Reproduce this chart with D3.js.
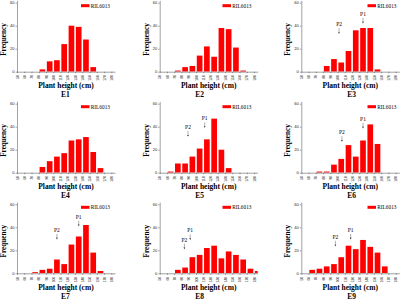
<!DOCTYPE html>
<html>
<head>
<meta charset="utf-8">
<script src="https://cdn.jsdelivr.net/npm/d3@7"></script>
<style>
body { margin: 0; background: #fff; }
svg { display: block; font-family: 'Liberation Serif', 'Times New Roman', serif; }
.axis path, .axis line { stroke: #444; stroke-width: 0.5; }
.axis text { fill: #222; }
</style>
</head>
<body>
<div id="chart"></div>
<script>
const envs = ['E1', 'E2', 'E3', 'E4', 'E5', 'E6', 'E7', 'E8', 'E9'];
const binStarts = [50, 60, 70, 80, 90, 100, 110, 120, 130, 140, 150, 160, 170, 180];
const xTickLabels = [50, 60, 70, 80, 90, 100, 110, 120, 130, 140, 150, 160, 170, 180];
const yTicks = [0, 20, 40, 60];
const seriesName = 'RIL6013';

// frequency per 10 cm bin, one array per environment
const e1 = [0, 0, 0, 2, 9, 10, 24, 40, 39, 28, 4, 0, 0, 0];
const e2 = [0, 0, 1, 4, 5, 14, 22, 13, 38, 37, 21, 1, 0, 0];
const e3 = [0, 0, 0, 5, 11, 8, 18, 36, 38, 38, 2, 0, 0, 0];
const e4 = [0, 0, 0, 5, 10, 14, 17, 28, 29, 31, 18, 4, 0, 0];
const e5 = [0, 1, 8, 8, 14, 21, 29, 47, 20, 4, 0, 0, 0, 0];
const e6 = [0, 0, 1, 1, 7, 12, 24, 14, 28, 42, 25, 0, 0, 0];
const e7 = [0, 0, 1, 3, 4, 12, 8, 25, 32, 42, 18, 2, 0, 0];
const e8 = [0, 0, 3, 5, 14, 16, 22, 24, 13, 19, 16, 12, 4, 2];
const e9 = [0, 3, 4, 6, 8, 14, 24, 21, 29, 23, 18, 6, 0, 0];
const counts = [e1, e2, e3, e4, e5, e6, e7, e8, e9];

// parent markers: plant height (cm) and frequency at arrow tip
const p1Height = [null, null, 135, null, 112, 135, 135, 92, 118];
const p1Freq = [null, null, 42, null, 39, 38.5, 41, 29, 29.5];
const p2Height = [null, null, 102, null, 89, 106, 105, 84, 97];
const p2Freq = [null, null, 33, null, 31.5, 27, 29.5, 21, 23.5];

// panel layout
const cols = [
    { x0: 17, labelX: 65.5, legendX: 81 },
    { x0: 159.7, labelX: 199.7, legendX: 222.5 },
    { x0: 301.3, labelX: 351.7, legendX: 367.5 }
];
const rows = [{ y0: 71.7 }, { y0: 172.7 }, { y0: 273.3 }];
const axisW = 98;
const yPerUnit = 69 / 60;

const svg = d3.select('#chart')
    .append('svg')
    .attr('width', 400)
    .attr('height', 300);

envs.forEach((name, i) => {
    const col = cols[i % 3];
    const row = rows[Math.floor(i / 3)];

    const x = d3.scaleLinear()
        .domain([50, 185])
        .range([col.x0, col.x0 + axisW]);
    const y = d3.scaleLinear()
        .domain([0, 62])
        .range([row.y0, row.y0 - 62 * yPerUnit]);

    const g = svg.append('g');

    g.append('clipPath')
        .attr('id', 'clip' + i)
        .append('rect')
        .attr('x', col.x0)
        .attr('y', y(62))
        .attr('width', axisW)
        .attr('height', row.y0 - y(62));

    const step = x(60) - x(50);
    g.append('g')
        .attr('clip-path', `url(#clip${i})`)
        .selectAll('rect')
        .data(binStarts.map((b, k) => ({ b: b, v: counts[i][k] })).filter(d => d.v > 0))
        .enter()
        .append('rect')
        .attr('x', d => x(d.b) + step * 0.11)
        .attr('y', d => y(d.v))
        .attr('width', step * 0.78)
        .attr('height', d => row.y0 - y(d.v))
        .attr('fill', '#ff0000');

    const xAxis = g.append('g')
        .attr('class', 'axis')
        .attr('transform', `translate(0,${row.y0})`)
        .call(d3.axisBottom(x).tickValues(xTickLabels).tickSize(1.5).tickSizeOuter(0));
    xAxis.selectAll('text')
        .attr('font-size', 3.3)
        .attr('transform', 'rotate(-90)')
        .attr('text-anchor', 'end')
        .attr('x', -3.5)
        .attr('y', 0)
        .attr('dy', '0.35em');

    g.append('g')
        .attr('class', 'axis')
        .attr('transform', `translate(${col.x0},0)`)
        .call(d3.axisLeft(y).tickValues(yTicks).tickSize(1.5).tickSizeOuter(0).tickPadding(1))
        .selectAll('text')
        .attr('font-size', 4);

    g.append('text')
        .attr('transform', `translate(${col.x0 - 11},${y(28)}) rotate(-90)`)
        .attr('text-anchor', 'middle')
        .attr('font-size', 7.2)
        .attr('font-weight', 'bold')
        .text('Frequency');

    g.append('text')
        .attr('x', col.x0 + axisW / 2)
        .attr('y', row.y0 + 16.5)
        .attr('text-anchor', 'middle')
        .attr('font-size', 7.5)
        .attr('font-weight', 'bold')
        .text('Plant height (cm)');

    g.append('text')
        .attr('x', col.labelX)
        .attr('y', row.y0 + 25.7)
        .attr('text-anchor', 'middle')
        .attr('font-size', 7.5)
        .attr('font-weight', 'bold')
        .text(name);

    // legend
    g.append('rect')
        .attr('x', col.legendX)
        .attr('y', y(60) + 1.5)
        .attr('width', 8.5)
        .attr('height', 3)
        .attr('fill', '#ff0000');
    g.append('text')
        .attr('x', col.legendX + 9.8)
        .attr('y', y(60) + 5)
        .attr('font-size', 5.3)
        .text(seriesName);

    // parent arrows
    [['P1', p1Height[i], p1Freq[i]], ['P2', p2Height[i], p2Freq[i]]].forEach(p => {
        if (p[1] == null) return;
        const px = x(p[1]);
        const tip = y(p[2]);
        g.append('line')
            .attr('x1', px).attr('x2', px)
            .attr('y1', tip - 5.5).attr('y2', tip - 1)
            .attr('stroke', '#333')
            .attr('stroke-width', 0.4);
        g.append('path')
            .attr('d', `M${px - 0.9},${tip - 1.6}L${px + 0.9},${tip - 1.6}L${px},${tip}Z`)
            .attr('fill', '#333');
        g.append('text')
            .attr('x', px)
            .attr('y', tip - 7.5)
            .attr('text-anchor', 'middle')
            .attr('font-size', 5.5)
            .text(p[0]);
    });
});
</script>
</body>
</html>
